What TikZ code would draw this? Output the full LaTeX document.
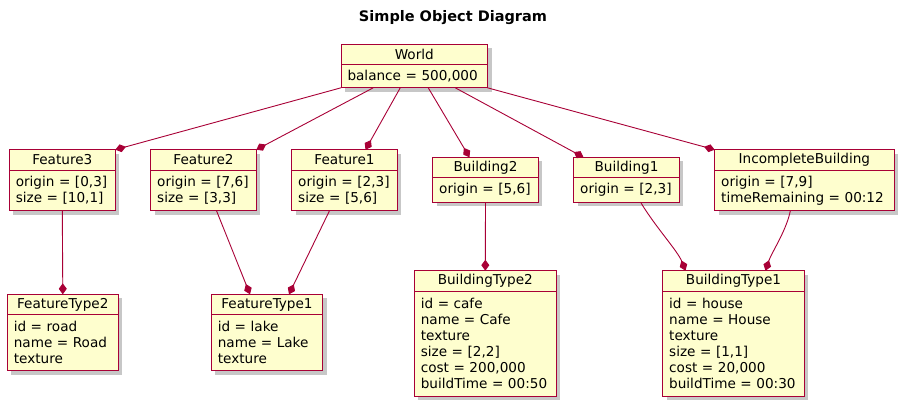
\documentclass[tikz,border=0pt]{standalone}
\usepackage{fontspec}
\setmainfont{DejaVu Sans}
\usepackage{xcolor}
\usepackage{tikz}
\usetikzlibrary{arrows.meta, positioning, shadows}

\definecolor{umlred}{HTML}{A80036}
\definecolor{umlfill}{HTML}{FEFECE}

\begin{document}
\begin{tikzpicture}[
  x=1pt, y=-1pt,
  obj/.style={draw=umlred, fill=umlfill, line width=0.9pt, outer sep=0pt,
    font=\fontsize{13.6}{16}\selectfont,
    drop shadow={shadow xshift=4pt, shadow yshift=-4pt, fill=black, opacity=0.22}},
  head/.style={obj, minimum height=20.5pt, inner sep=0pt, anchor=north west},
  attr/.style={obj, inner xsep=6.5pt, inner ysep=0pt, align=left},
  comp/.style={draw=umlred, line width=0.9pt, -{Diamond[length=11pt, width=8pt]}}
]
\useasboundingbox (0,0) rectangle (907,409);
\node[font=\fontsize{14.5}{16}\selectfont\bfseries] (title) at (453,18) {Simple Object Diagram};

% top row
\node[head, minimum width=146.5pt] (world) at (341,44.3) {World};
\node[attr, text width=133.5pt, minimum height=23pt, below=0pt of world] (world-a) {balance = 500,000};

% middle row
\node[head, minimum width=106pt] (f3) at (9.3,149.7) {Feature3};
\node[attr, text width=93pt, minimum height=40.5pt, below=0pt of f3] (f3-a) {origin = [0,3]\\size = [10,1]};
\node[head, minimum width=105.6pt] (f2) at (150.7,149.7) {Feature2};
\node[attr, text width=92.6pt, minimum height=40.5pt, below=0pt of f2] (f2-a) {origin = [7,6]\\size = [3,3]};
\node[head, minimum width=105.6pt] (f1) at (291.7,149.7) {Feature1};
\node[attr, text width=92.6pt, minimum height=40.5pt, below=0pt of f1] (f1-a) {origin = [2,3]\\size = [5,6]};
\node[head, minimum width=105.6pt] (b2) at (432.7,157.3) {Building2};
\node[attr, text width=92.6pt, minimum height=24.3pt, below=0pt of b2] (b2-a) {origin = [5,6]};
\node[head, minimum width=105.6pt] (b1) at (573.7,157.3) {Building1};
\node[attr, text width=92.6pt, minimum height=24.3pt, below=0pt of b1] (b1-a) {origin = [2,3]};
\node[head, minimum width=179.3pt] (ib) at (714.7,149.7) {IncompleteBuilding};
\node[attr, text width=166.3pt, minimum height=40.5pt, below=0pt of ib] (ib-a) {origin = [7,9]\\timeRemaining = 00:12};

% bottom row
\node[head, minimum width=111pt] (ft2) at (7.3,294.3) {FeatureType2};
\node[attr, text width=98pt, minimum height=56pt, below=0pt of ft2] (ft2-a) {id = road\\name = Road\\texture};
\node[head, minimum width=111.4pt] (ft1) at (211.3,294.3) {FeatureType1};
\node[attr, text width=98.4pt, minimum height=56pt, below=0pt of ft1] (ft1-a) {id = lake\\name = Lake\\texture};
\node[head, minimum width=142pt] (bt2) at (414.3,270.7) {BuildingType2};
\node[attr, text width=129pt, minimum height=105pt, below=0pt of bt2] (bt2-a) {id = cafe\\name = Cafe\\texture\\size = [2,2]\\cost = 200,000\\buildTime = 00:50};
\node[head, minimum width=141.6pt] (bt1) at (662.7,270.7) {BuildingType1};
\node[attr, text width=128.6pt, minimum height=105pt, below=0pt of bt1] (bt1-a) {id = house\\name = House\\texture\\size = [1,1]\\cost = 20,000\\buildTime = 00:30};

% links
\draw[comp] (world-a.south west) -- (f3.north east);
\draw[comp] ([xshift=-41pt]world-a.south) -- (f2.north east);
\draw[comp] ([xshift=-14pt]world-a.south) -- ([xshift=21pt]f1.north);
\draw[comp] ([xshift=14pt]world-a.south) -- ([xshift=-16pt]b2.north);
\draw[comp] ([xshift=41pt]world-a.south) -- ([xshift=-43pt]b1.north);
\draw[comp] (world-a.south east) -- (ib.north west);

\draw[comp] (f3-a.south) -- (ft2.north);
\draw[comp] ([xshift=13pt]f2-a.south) -- ([xshift=-17pt]ft1.north);
\draw[comp] ([xshift=-15pt]f1-a.south) -- ([xshift=22pt]ft1.north);
\draw[comp] (b2-a.south) -- (bt2.north);
\draw[comp] ([xshift=14pt]b1-a.south) .. controls +(15,25) and +(-8,-20) .. ([xshift=-48pt]bt1.north);
\draw[comp] ([xshift=-14pt]ib-a.south) .. controls +(-4,20) and +(6,-18) .. ([xshift=32pt]bt1.north);
\end{tikzpicture}
\end{document}
